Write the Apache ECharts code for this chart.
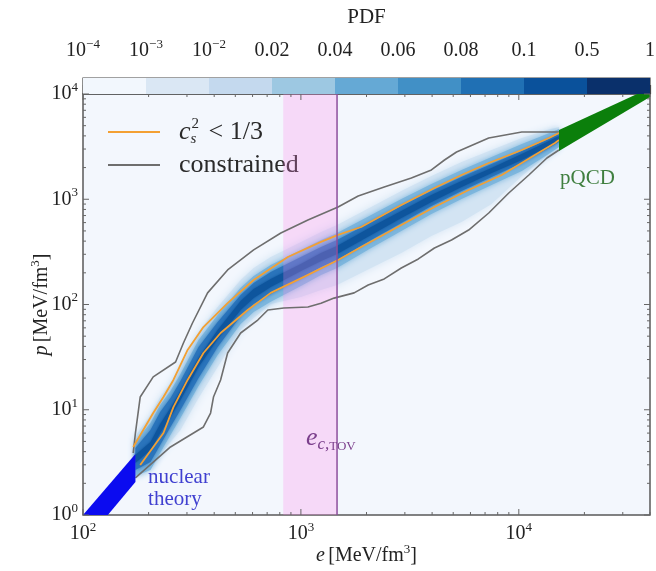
<!DOCTYPE html>
<html>
<head>
<meta charset="utf-8">
<script src="https://cdn.jsdelivr.net/npm/echarts@6/dist/echarts.min.js"></script>
<style>
  html, body { margin: 0; padding: 0; background: #fff; }
  #chart { width: 656px; height: 571px; }
</style>
</head>
<body>
<div id="chart"></div>
<script>
// energy density grid for the density bands (MeV/fm^3)
const eGrid = [174, 204, 226, 252, 280, 339, 415, 529, 607, 727, 1000, 1237, 1465, 2100, 2890, 3970, 5460, 7500, 10320, 13460, 15290];
// outer halo (lightest)
const aHi = [5.63, 8.92, 13.2, 18.0, 26.0, 54.8, 94.7, 171, 222, 283, 393, 489, 569, 844, 1198, 1663, 2259, 2938, 3818, 4550, 4859];
const aLo = [2.25, 3.19, 3.80, 4.94, 6.42, 12.9, 25.5, 57.3, 74.4, 101, 118, 137, 153, 222, 309, 448, 608, 902, 1663, 2633, 3136];
// middle halo
const bHi = [5.05, 7.48, 11.1, 15.1, 21.9, 46.0, 79.5, 144, 187, 237, 330, 410, 478, 709, 1006, 1396, 1897, 2520, 3349, 4169, 4650];
const bLo = [2.35, 2.68, 3.88, 5.76, 8.35, 16.8, 33.1, 65.3, 84.9, 106, 150, 191, 222, 344, 499, 724, 1006, 1366, 1855, 2633, 3136];
// core
const cHi = [4.33, 6.42, 9.52, 12.9, 18.8, 39.5, 68.2, 123, 160, 204, 283, 352, 410, 608, 863, 1198, 1627, 2162, 2873, 3656, 4169];
const cLo = [2.68, 3.19, 4.63, 6.86, 9.95, 20.0, 39.5, 77.7, 101, 126, 179, 227, 265, 410, 595, 863, 1198, 1627, 2210, 3002, 3499];
// ridge
const dHi = [3.72, 4.94, 7.32, 10.4, 15.1, 31.0, 57.3, 108, 140, 175, 243, 309, 360, 545, 773, 1098, 1490, 1981, 2691, 3499, 3990];
const dLo = [3.12, 4.15, 6.01, 8.53, 12.4, 25.5, 47.0, 88.7, 115, 147, 208, 259, 302, 458, 664, 942, 1307, 1776, 2360, 3136, 3656];

// "constrained" contour
const gUpE = [170, 174, 183, 210, 266, 289, 318, 373, 461, 607, 809, 1077, 1481, 1832, 2412, 3213, 3972, 4560, 5179, 7277, 10320, 13740, 15290];
const gUpP = [3.88, 6.01, 13.2, 20.5, 28.4, 43.1, 66.7, 129, 213, 330, 478, 635, 844, 1074, 1307, 1592, 1897, 2360, 2812, 3819, 4355, 4355, 4355];
const gLoE = [174, 252, 357, 385, 397, 428, 461, 529, 634, 705, 835, 1077, 1237, 1420, 1755, 2036, 2412, 2889, 3460, 4101, 4911, 5885, 7277, 8995, 11120, 13460, 15290];
const gLoP = [2.25, 4.43, 6.86, 9.31, 13.2, 19.2, 34.6, 53.6, 71.2, 88.7, 92.6, 94.7, 103, 115, 129, 153, 175, 222, 271, 344, 410, 510, 740, 1146, 1700, 2466, 2938];

// c_s^2 < 1/3 contour
const oUpE = [170, 189, 210, 234, 260, 302, 357, 461, 607, 871, 1237, 1481, 1890, 2889, 4101, 5462, 7277, 10320, 13740, 15290];
const oUpP = [4.43, 6.42, 9.31, 13.2, 19.2, 37.0, 61.1, 103, 171, 283, 393, 458, 545, 881, 1279, 1700, 2209, 2938, 3819, 4257];
const oLoE = [183, 234, 260, 302, 357, 428, 570, 727, 1032, 1481, 1890, 2889, 4101, 5885, 8351, 11850, 14650, 15290];
const oLoP = [2.99, 6.01, 10.6, 19.2, 34.6, 53.6, 88.7, 129, 183, 265, 352, 569, 844, 1224, 1700, 2633, 3422, 3656];

// nuclear theory and pQCD bands (corners)
const nucE = [100, 174, 174, 130];
const nucP = [1, 3.8, 2.06, 1];
const qcdE = [15290, 40000, 40000, 15290];
const qcdP = [4540, 11400, 9360, 2870];

// e_c,TOV band
const tovE = [830, 1465];

// ticks
const xMajor = [100, 1000, 10000];
const xMinor = [200, 300, 400, 500, 600, 700, 800, 900, 2000, 3000, 4000, 5000, 6000, 7000, 8000, 9000, 20000, 30000, 40000];
const yMajor = [1, 10, 100, 1000, 10000];
const yMinor = [2, 3, 4, 5, 6, 7, 8, 9, 20, 30, 40, 50, 60, 70, 80, 90, 200, 300, 400, 500, 600, 700, 800, 900, 2000, 3000, 4000, 5000, 6000, 7000, 8000, 9000];

// colorbar
const cbLabels = ['{b|10}{s|−4}', '{b|10}{s|−3}', '{b|10}{s|−2}', '{b|0.02}', '{b|0.04}', '{b|0.06}', '{b|0.08}', '{b|0.1}', '{b|0.5}', '{b|1}'];
const cbColors = ['#f2f7fd', '#dae7f4', '#c4d9ee', '#9dc8e2', '#65a9d5', '#4190c6', '#2070b4', '#0a519b', '#0a306b'];

// annotations
const noteE = [199, 15450, 1054];
const noteP = [1.77, 1592, 5.39];

const FONT = 'Liberation Serif';
const CS = 'c_s^2 < 1/3';
const CON = 'constrained';
const supRich = {
  b: { fontFamily: FONT, fontSize: 20, lineHeight: 26, color: '#222' },
  s: { fontFamily: FONT, fontSize: 13, lineHeight: 14, verticalAlign: 'top', color: '#222' },
  i: { fontFamily: FONT, fontSize: 20, lineHeight: 26, fontStyle: 'italic', color: '#222' }
};

const chart = echarts.init(document.getElementById('chart'));

function zip(xs, ys) { return xs.map((x, i) => [x, ys[i]]); }
function band(es, lo, hi) {
  return zip(es, hi).concat(zip(es, lo).reverse());
}
function polygon(pts, color, z, blur) {
  return {
    type: 'custom', z: z, silent: true, clip: true,
    data: [pts[0]],
    renderItem: function (params, api) {
      return {
        type: 'polygon',
        shape: { points: pts.map(p => api.coord(p)) },
        style: { fill: color, shadowBlur: blur || 0, shadowColor: color }
      };
    }
  };
}
function line(name, pts, color, width, z) {
  return {
    type: 'line', name: name, data: pts, z: z, silent: true,
    symbol: 'none', showSymbol: false,
    lineStyle: { color: color, width: width },
    itemStyle: { color: color }
  };
}
function logLabel(v) {
  const l = Math.log10(v), k = Math.round(l);
  if (Math.abs(l - k) > 1e-6) return '';
  return '{b|10}{s|' + k + '}';
}

const tickStyle = { stroke: '#666', lineWidth: 1 };

chart.setOption({
  animation: false,
  grid: [
    { left: 83, top: 94, width: 567, height: 421, outerBoundsMode: 'none', containLabel: false,
      show: true, backgroundColor: '#f3f7fd', borderColor: '#5a5a5a', borderWidth: 1.5 },
    { left: 83, top: 78, width: 567, height: 16, outerBoundsMode: 'none', containLabel: false,
      show: true, borderColor: '#444', borderWidth: 1.2 }
  ],
  legend: {
    left: 103, top: 112, orient: 'vertical', icon: 'rect', itemWidth: 52, itemHeight: 2, itemGap: 5,
    selectedMode: false,
    data: [CS, CON],
    formatter: n => n === CS ? '{i|c}{sb|s}{sp|2}{n| < 1/3}' : '{n|constrained}',
    textStyle: {
      padding: [0, 0, 0, 14],
      rich: {
        i: { fontFamily: FONT, fontSize: 26, fontStyle: 'italic', color: '#2a2a2a', lineHeight: 30 },
        sb: { fontFamily: FONT, fontSize: 15, fontStyle: 'italic', color: '#2a2a2a', lineHeight: 14, verticalAlign: 'bottom', width: 1 },
        sp: { fontFamily: FONT, fontSize: 15, color: '#2a2a2a', lineHeight: 14, verticalAlign: 'top', padding: [0, 3, 0, 0] },
        n: { fontFamily: FONT, fontSize: 26, color: '#2a2a2a', lineHeight: 30 }
      }
    }
  },
  xAxis: [
    {
      type: 'log', logBase: 10, min: 100, max: 40000, gridIndex: 0,
      axisLine: { show: false }, axisTick: { show: false }, splitLine: { show: false },
      axisLabel: { formatter: logLabel, margin: 6, rich: supRich, showMaxLabel: false },
      name: '{i|e} {b|[MeV/fm}{s|3}{b|]}', nameLocation: 'middle', nameGap: 28, nameMoveOverlap: false,
      nameTextStyle: { rich: supRich }
    },
    {
      type: 'value', gridIndex: 1, min: 0, max: 9, interval: 1, position: 'top',
      axisLine: { show: false }, splitLine: { show: false },
      axisTick: { show: true, length: 9, lineStyle: { color: '#444', width: 1.2 } },
      axisLabel: { formatter: v => cbLabels[v], margin: 14, rich: supRich },
      name: 'PDF', nameLocation: 'middle', nameGap: 50,
      nameTextStyle: { fontFamily: FONT, fontSize: 21, color: '#222' }
    }
  ],
  yAxis: [
    {
      type: 'log', logBase: 10, min: 1, max: 10000, gridIndex: 0,
      axisLine: { show: false }, axisTick: { show: false }, splitLine: { show: false },
      axisLabel: { formatter: logLabel, margin: 5, rich: supRich },
      name: '{i|p} {b|[MeV/fm}{s|3}{b|]}', nameLocation: 'middle', nameGap: 28, nameMoveOverlap: false,
      nameTextStyle: { rich: supRich }
    },
    { type: 'value', gridIndex: 1, min: 0, max: 1, show: false }
  ],
  series: [
    polygon(band(eGrid, aLo, aHi), '#d3e4f3', 1, 8),
    polygon(band(eGrid, bLo, bHi), '#7db6dd', 2, 6),
    polygon(band(eGrid, cLo, cHi), '#2a74bb', 3, 4),
    polygon(band(eGrid, dLo, dHi), '#0e559d', 3.5, 3),
    polygon([[tovE[0], 1], [tovE[0], 10000], [tovE[1], 10000], [tovE[1], 1]], 'rgba(255,130,235,0.26)', 4, 0),
    line(CON, zip(gUpE, gUpP), '#6e6e6e', 1.6, 5),
    line(CON, zip(gLoE, gLoP), '#6e6e6e', 1.6, 5),
    line(CS, zip(oUpE, oUpP), '#f3a033', 1.8, 6),
    line(CS, zip(oLoE, oLoP), '#f3a033', 1.8, 6),
    line('tov', [[tovE[1], 1], [tovE[1], 10000]], '#8c4f9c', 1.5, 7),
    polygon(zip(nucE, nucP), '#0b0bf0', 8, 0),
    polygon(zip(qcdE, qcdP), '#0b7f0b', 8, 0),
    {
      type: 'custom', z: 9, silent: true,
      data: xMinor.map(v => [v, 1, 3]).concat(xMajor.map(v => [v, 1, 6])),
      renderItem: function (params, api) {
        const cs = params.coordSys;
        const x = api.coord([api.value(0), 1])[0];
        const len = api.value(2);
        return { type: 'group', children: [
          { type: 'line', shape: { x1: x, y1: cs.y + cs.height, x2: x, y2: cs.y + cs.height - len }, style: tickStyle },
          { type: 'line', shape: { x1: x, y1: cs.y, x2: x, y2: cs.y + len }, style: tickStyle }
        ] };
      }
    },
    {
      type: 'custom', z: 9, silent: true,
      data: yMinor.map(v => [100, v, 3]).concat(yMajor.map(v => [100, v, 6])),
      renderItem: function (params, api) {
        const cs = params.coordSys;
        const y = api.coord([100, api.value(1)])[1];
        const len = api.value(2);
        return { type: 'group', children: [
          { type: 'line', shape: { x1: cs.x, y1: y, x2: cs.x + len, y2: y }, style: tickStyle },
          { type: 'line', shape: { x1: cs.x + cs.width, y1: y, x2: cs.x + cs.width - len, y2: y }, style: tickStyle }
        ] };
      }
    },
    {
      type: 'custom', z: 10, silent: true,
      data: zip(noteE, noteP),
      renderItem: function (params, api) {
        const pt = api.coord([api.value(0), api.value(1)]);
        const i = params.dataIndex;
        const styles = [
          { text: 'nuclear\ntheory', fill: '#4040d0', fontSize: 21, lineHeight: 22 },
          { text: 'pQCD', fill: '#3f7f3f', fontSize: 21, lineHeight: 24 },
          {
            text: '{i|e}{sb|c,}{sc|TOV}', fill: '#7b3f8c',
            rich: {
              i: { fontFamily: FONT, fontSize: 26, fontStyle: 'italic', fill: '#7b3f8c', lineHeight: 30 },
              sb: { fontFamily: FONT, fontSize: 17, fontStyle: 'italic', fill: '#7b3f8c', lineHeight: 18, verticalAlign: 'bottom' },
              sc: { fontFamily: FONT, fontSize: 13, fill: '#7b3f8c', lineHeight: 16, verticalAlign: 'bottom' }
            }
          }
        ];
        const st = Object.assign({ fontFamily: FONT, align: 'left', verticalAlign: 'middle' }, styles[i]);
        return { type: 'text', x: pt[0], y: pt[1], style: st };
      }
    },
    {
      type: 'custom', xAxisIndex: 1, yAxisIndex: 1, z: 2, silent: true,
      data: cbColors.map((c, i) => [i, 0]),
      renderItem: function (params, api) {
        const i = api.value(0);
        const p0 = api.coord([i, 0]);
        const p1 = api.coord([i + 1, 1]);
        return {
          type: 'rect',
          shape: { x: p0[0], y: p1[1], width: p1[0] - p0[0], height: p0[1] - p1[1] },
          style: { fill: cbColors[i] }
        };
      }
    }
  ]
});
</script>
</body>
</html>
